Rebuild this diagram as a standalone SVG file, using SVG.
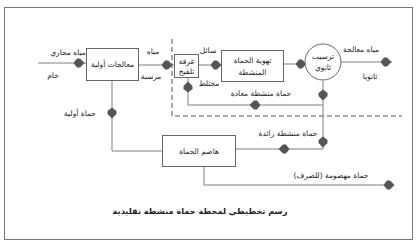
<svg xmlns="http://www.w3.org/2000/svg" width="419" height="246" viewBox="0 0 419 246">
<style>
.box{fill:#fff;stroke:#666;stroke-width:1}
.ln{fill:none;stroke:#808080;stroke-width:1}
.ds{fill:none;stroke:#555;stroke-width:1;stroke-dasharray:5,3}
.t{font-family:"DejaVu Sans",sans-serif;font-size:7.5px;fill:#222;text-anchor:middle}
.cap{font-family:"DejaVu Sans",sans-serif;font-size:8.2px;font-weight:bold;fill:#222;text-anchor:middle}
.ah{fill:#555}
</style>
<defs>
<path id="ah" d="M-5.5,0 L-2,-4.5 L1,-4.5 L5.5,0 L1,4.5 L-2,4.5 Z"/>
</defs>
<rect x="4.5" y="7.5" width="408" height="232" fill="#fff" stroke="#777" stroke-width="1"/>
<path class="ds" d="M172,39 V116 H402"/>
<g id="connectors">
<path class="ln" d="M38,63 H86"/>
<path class="ln" d="M139,65 H174"/>
<path class="ln" d="M198,65 H221"/>
<path class="ln" d="M284,64 H305"/>
<path class="ln" d="M341,62 H392"/>
<path class="ln" d="M323,81 V149 H235"/>
<path class="ln" d="M323,105 H188 V78"/>
<path class="ln" d="M112,81 V151 H162"/>
<path class="ln" d="M204,167 V185 H392"/>
<use href="#ah" class="ah" transform="translate(79,63)"/>
<use href="#ah" class="ah" transform="translate(167,65)"/>
<use href="#ah" class="ah" transform="translate(216,65)"/>
<use href="#ah" class="ah" transform="translate(301,64)"/>
<use href="#ah" class="ah" transform="translate(386,62)"/>
<use href="#ah" class="ah" transform="translate(323,95) rotate(90)"/>
<use href="#ah" class="ah" transform="translate(323,142) rotate(90)"/>
<use href="#ah" class="ah" transform="translate(284,149) rotate(180)"/>
<use href="#ah" class="ah" transform="translate(255,105) rotate(180)"/>
<use href="#ah" class="ah" transform="translate(188,87) rotate(-90)"/>
<use href="#ah" class="ah" transform="translate(112,113) rotate(90)"/>
<use href="#ah" class="ah" transform="translate(389,185)"/>
</g>
<g id="labels">
<text class="t" x="68" y="55">مياه مجاري</text>
<text class="t" x="53" y="78">خام</text>
<text class="t" x="153" y="54">مياه</text>
<text class="t" x="151" y="79">مرسبة</text>
<text class="t" x="208" y="53">سائل</text>
<text class="t" x="209" y="86">مختلط</text>
<text class="t" x="361" y="52">مياه معالجة</text>
<text class="t" x="370" y="79">ثانويا</text>
<text class="t" x="261" y="96">حماة منشطة معادة</text>
<text class="t" x="288" y="136">حماة منشطة زائدة</text>
<text class="t" x="331" y="178">حماة مهضومة (للصرف)</text>
<text class="t" x="80" y="116">حماة أولية</text>
</g>
<g id="primary"><rect class="box" x="86.5" y="48.5" width="52" height="32"/><text class="t" x="112.5" y="67">معالجات أولية</text></g>
<g id="inoculation"><rect class="box" x="174.5" y="54.5" width="24" height="23"/><text class="t" x="186.5" y="64">غرفة</text><text class="t" x="186.5" y="74">تلقيح</text></g>
<g id="aeration"><rect class="box" x="221.5" y="50.5" width="62" height="31"/><text class="t" x="252.5" y="63">تهوية الحماة</text><text class="t" x="252.5" y="75">المنشطة</text></g>
<g id="clarifier"><circle class="box" cx="323" cy="62" r="18"/><text class="t" x="323" y="59">ترسيب</text><text class="t" x="323" y="70">ثانوي</text></g>
<g id="digester"><rect class="box" x="162.5" y="135.5" width="73" height="31"/><text class="t" x="199" y="154">هاضم الحماة</text></g>
<text class="cap" x="200" y="214">رسم تخطيطي لمحطة حماة منشطة تقليدية</text>
</svg>
